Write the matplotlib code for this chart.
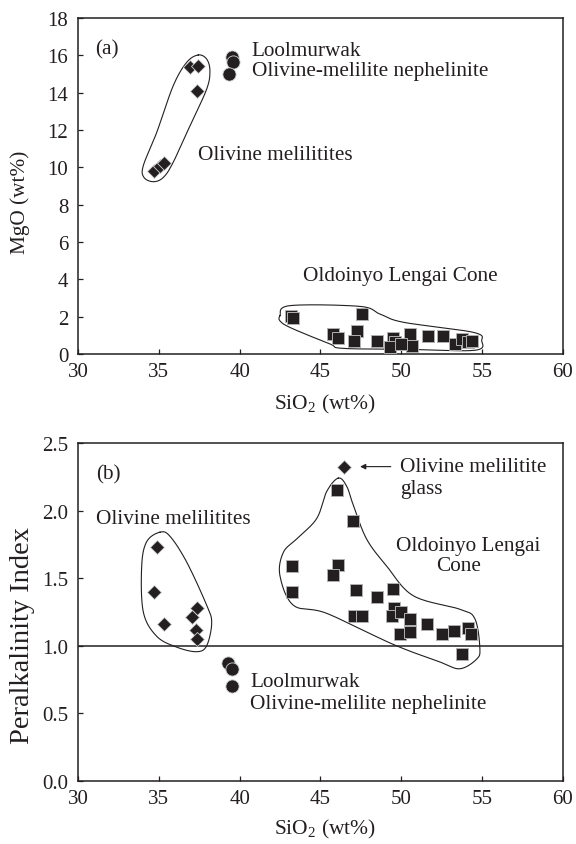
import numpy as np
import matplotlib
matplotlib.use("Agg")
import matplotlib.pyplot as plt

plt.rcParams['font.family'] = ['Liberation Serif', 'DejaVu Serif']
plt.rcParams['mathtext.fontset'] = 'custom'
plt.rcParams['mathtext.rm'] = 'Liberation Serif'

INK = '#231f20'

# ---------------- (a) MgO vs SiO2 ----------------
mel_a_sio2 = [36.93, 37.44, 37.38, 34.70, 35.05, 35.35]
mel_a_mgo = [15.35, 15.45, 14.07, 9.82, 10.05, 10.22]

lool_a_sio2 = [39.50, 39.57, 39.34]
lool_a_mgo = [15.90, 15.67, 15.00]

ol_a_sio2 = [43.17, 43.30, 47.54, 45.80, 46.06, 47.23, 47.07, 48.47, 49.50, 49.60,
             49.30, 50.53, 50.63, 50.00, 51.62, 52.55, 53.31, 53.73, 54.14, 54.40]
ol_a_mgo = [2.05, 1.95, 2.14, 1.07, 0.84, 1.25, 0.71, 0.68, 0.84, 0.62,
            0.36, 1.07, 0.45, 0.54, 0.95, 0.95, 0.54, 0.80, 0.62, 0.70]

# ---------------- (b) Peralkalinity index vs SiO2 ----------------
mel_b_sio2 = [34.86, 34.70, 35.32, 37.34, 37.07, 37.30, 37.38]
mel_b_pi = [1.73, 1.40, 1.16, 1.28, 1.21, 1.12, 1.05]

glass_b_sio2 = [46.47]
glass_b_pi = [2.32]

lool_b_sio2 = [39.30, 39.50, 39.55]
lool_b_pi = [0.87, 0.83, 0.70]

ol_b_sio2 = [46.00, 47.03, 43.25, 43.25, 46.10, 45.79, 47.19, 48.47, 49.46, 47.09,
             47.54, 49.56, 49.40, 49.97, 50.53, 49.91, 50.53, 51.56, 52.49, 53.27,
             54.14, 54.28, 53.73]
ol_b_pi = [2.15, 1.92, 1.59, 1.40, 1.60, 1.52, 1.41, 1.36, 1.42, 1.22,
           1.22, 1.28, 1.22, 1.25, 1.20, 1.09, 1.10, 1.16, 1.09, 1.11,
           1.13, 1.09, 0.94]

# Hand-drawn group outlines (closed loops)
outline_a_mel = [(37.44, 16.02), (37.96, 15.80), (38.16, 15.17), (37.96, 14.19),
                 (36.93, 12.23), (35.89, 10.27), (35.28, 9.46), (34.66, 9.23),
                 (34.08, 9.46), (34.04, 10.09), (34.87, 11.87), (35.89, 14.37),
                 (36.72, 15.62)]
outline_a_ol = [(42.49, 2.05), (43.11, 2.59), (47.44, 2.55), (48.68, 2.14),
                (50.12, 1.70), (54.45, 1.16), (54.97, 0.71), (54.55, 0.20),
                (50.5, 0.25), (46.4, 0.30), (45.58, 0.54), (43.32, 1.34),
                (42.55, 1.72)]
outline_b_mel = [(35.07, 1.84), (35.69, 1.81), (36.72, 1.62), (37.96, 1.30),
                 (38.27, 1.17), (37.96, 1.00), (37.34, 0.956), (36.10, 0.99),
                 (34.87, 1.07), (34.04, 1.25), (33.94, 1.59), (34.25, 1.77)]
outline_b_ol = [(46.10, 2.24), (46.62, 2.18), (47.03, 2.04), (47.85, 1.79),
                (49.09, 1.59), (50.74, 1.37), (53.62, 1.27), (54.55, 1.20),
                (54.86, 0.98), (54.65, 0.90), (53.62, 0.83), (52.39, 0.88),
                (49.50, 1.01), (45.38, 1.24), (43.32, 1.30), (42.49, 1.52),
                (42.70, 1.69), (43.52, 1.79), (44.76, 1.94), (45.38, 2.14)]


def smooth_loop(pts, n=30):
    """Periodic Catmull-Rom spline through the given points."""
    p = np.asarray(pts, dtype=float)
    m = len(p)
    out = []
    for i in range(m):
        p0, p1, p2, p3 = p[i - 1], p[i], p[(i + 1) % m], p[(i + 2) % m]
        t = np.linspace(0, 1, n, endpoint=False)[:, None]
        seg = 0.5 * ((2 * p1) + (-p0 + p2) * t +
                     (2 * p0 - 5 * p1 + 4 * p2 - p3) * t ** 2 +
                     (-p0 + 3 * p1 - 3 * p2 + p3) * t ** 3)
        out.append(seg)
    out = np.vstack(out)
    return np.vstack([out, out[:1]])


sq = dict(marker='s', ms=9, mfc=INK, mec='#b0b0b0', mew=0.7, ls='none', zorder=3)
dm = dict(marker='D', ms=7.4, mfc=INK, mec='#d0d0d0', mew=0.6, ls='none', zorder=3)
ci = dict(marker='o', ms=9.5, mfc=INK, mec='#d0d0d0', mew=0.6, ls='none', zorder=3)

FS = 15.3

fig = plt.figure(figsize=(5.76, 8.45), dpi=100)
ax1 = fig.add_axes([0.1354, 0.5799, 0.8420, 0.3976])
ax2 = fig.add_axes([0.1354, 0.0746, 0.8420, 0.4000])

for ax in (ax1, ax2):
    ax.set_xlim(30, 60)
    ax.set_xticks([30, 35, 40, 45, 50, 55, 60])
    for s in ax.spines.values():
        s.set_linewidth(1.1)
        s.set_color(INK)
    ax.tick_params(direction='in', length=3.5, width=0.9, colors=INK,
                   labelsize=15, top=False, right=False)
    ax.tick_params(axis='x', pad=6)
    ax.tick_params(axis='y', pad=7)

# panel (a)
ax1.set_ylim(0, 18)
ax1.set_yticks(range(0, 19, 2))
for pts in (outline_a_mel, outline_a_ol):
    c = smooth_loop(pts)
    ax1.plot(c[:, 0], c[:, 1], color=INK, lw=0.8, zorder=2)
ax1.plot(mel_a_sio2, mel_a_mgo, **dm)
ax1.plot(lool_a_sio2, lool_a_mgo, **ci)
ax1.plot(ol_a_sio2, ol_a_mgo, **sq)

tk = dict(fontsize=FS, color=INK, va='center')
ax1.text(31.05, 16.34, '(a)', **tk)
ax1.text(40.74, 16.25, 'Loolmurwak', **tk)
ax1.text(40.74, 15.18, 'Olivine-melilite nephelinite', **tk)
ax1.text(37.44, 10.71, 'Olivine melilitites', **tk)
ax1.text(43.94, 4.20, 'Oldoinyo Lengai Cone', **tk)

# panel (b)
ax2.set_ylim(0, 2.5)
ax2.set_yticks([0.0, 0.5, 1.0, 1.5, 2.0, 2.5])
ax2.set_yticklabels(['0.0', '0.5', '1.0', '1.5', '2.0', '2.5'])
ax2.axhline(1.0, color=INK, lw=1.1, zorder=1)
for pts in (outline_b_mel, outline_b_ol):
    c = smooth_loop(pts)
    ax2.plot(c[:, 0], c[:, 1], color=INK, lw=0.8, zorder=2)
ax2.plot(mel_b_sio2, mel_b_pi, **dm)
ax2.plot(glass_b_sio2, glass_b_pi, **dm)
ax2.plot(lool_b_sio2, lool_b_pi, **ci)
ax2.plot(ol_b_sio2, ol_b_pi, **sq)

ax2.text(31.11, 2.27, '(b)', **tk)
ax2.text(31.11, 1.94, 'Olivine melilitites', **tk)
ax2.text(54.14, 1.74, 'Oldoinyo Lengai', ha='center', **tk)
ax2.text(53.55, 1.59, 'Cone', ha='center', **tk)
ax2.text(40.64, 0.735, 'Loolmurwak', **tk)
ax2.text(40.64, 0.57, 'Olivine-melilite nephelinite', **tk)
ax2.text(49.91, 2.325, 'Olivine melilitite', **tk)
ax2.text(49.91, 2.16, 'glass', **tk)
ax2.annotate('', xy=(47.45, 2.325), xytext=(49.35, 2.325),
             arrowprops=dict(arrowstyle='-|>', color=INK, lw=0.8,
                             mutation_scale=8, shrinkA=0, shrinkB=0))

# axis titles
xl = r'SiO$_\mathregular{2}$ (wt%)'
fig.text(325 / 576, 1 - 404 / 845, xl, ha='center', va='center', fontsize=15.5, color=INK)
fig.text(325 / 576, 1 - 829 / 845, xl, ha='center', va='center', fontsize=15.5, color=INK)
fig.text(20 / 576, 1 - 202 / 845, 'MgO (wt%)', rotation=90, ha='center', va='center',
         fontsize=15.3, color=INK)
fig.text(23 / 576, 1 - 636 / 845, 'Peralkalinity Index', rotation=90, ha='center',
         va='center', fontsize=20.5, color=INK)

fig.savefig('out.png', dpi=100)
